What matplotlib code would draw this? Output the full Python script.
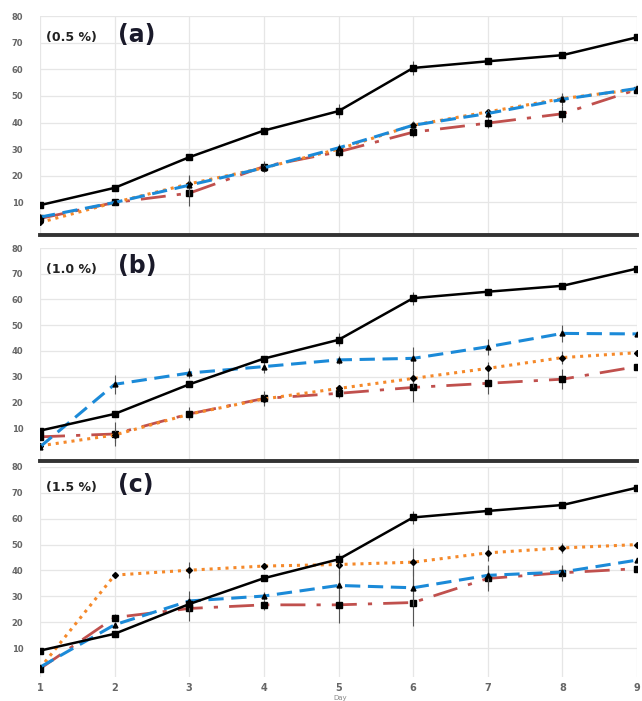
import matplotlib.pyplot as plt
import numpy as np

days = [1, 2, 3, 4, 5, 6, 7, 8, 9]

# valores, un panel por concentracion
control = [9, 15.5, 27, 37, 44.3, 60.5, 63, 65.3, 72]
control_err = [0.8, 1, 1, 1.2, 2.5, 2.5, 1, 1, 1]

blue_a = [4.5, 10, 16.5, 23, 30.5, 39, 43.4, 48.7, 52.8]
orange_a = [2.5, 10, 17, 23, 30, 39, 44, 49, 52.5]
red_a = [4, 10, 13.5, 23.5, 29, 36.4, 39.8, 43.3, 52.4]
err_a = [1.5, 1, 5, 2, 2, 2, 2, 3, 2.5]

blue_b = [2.7, 27, 31.4, 33.9, 36.5, 37.1, 41.6, 46.8, 46.6]
orange_b = [3.1, 7.3, 15.4, 21.3, 25.4, 29.3, 33.2, 37.4, 39.3]
red_b = [6.6, 7.7, 15.5, 21.5, 23.5, 25.8, 27.4, 29, 33.9]
err_b = [1, 4.5, 2.5, 3, 2, 5.5, 4, 4, 1]

blue_c = [2.6, 19, 28.2, 30.1, 34.2, 33.3, 38.1, 39.4, 44]
orange_c = [2.2, 38.2, 40.1, 41.7, 42.3, 43.2, 46.8, 48.7, 50]
red_c = [2, 21.8, 25.3, 26.7, 26.7, 27.6, 36.9, 39.1, 40.7]
err_c = [1, 1.5, 5, 2, 7, 9, 5, 3, 1]

conc = ['(0.5 %)', '(1.0 %)', '(1.5 %)']
letters = ['(a)', '(b)', '(c)']
yticks = [10, 20, 30, 40, 50, 60, 70, 80]

W, H = 642, 701
fig = plt.figure(figsize=(W / 100, H / 100), dpi=100)

# cajas de cada panel en pixeles: (arriba, abajo, ymin)
boxes = [(16, 235, -2.2), (248, 461, -2.8), (467, 677, -1.2)]
series = [(blue_a, orange_a, red_a, err_a),
          (blue_b, orange_b, red_b, err_b),
          (blue_c, orange_c, red_c, err_c)]

for i, ((top, bot, ymin), (bl, orr, rd, er)) in enumerate(zip(boxes, series)):
    ax = fig.add_axes([40 / W, 1 - bot / H, 597 / W, (bot - top) / H])
    ax.set_xlim(1, 9)
    ax.set_ylim(ymin, 80)
    ax.set_yticks(yticks)
    ax.set_xticks(days)
    ax.grid(True, color='#e6e6e6', linewidth=0.9)
    ax.set_axisbelow(True)
    for s in ['left', 'right', 'top']:
        ax.spines[s].set_visible(False)
    if i < 2:
        ax.spines['bottom'].set_color('#333333')
        ax.spines['bottom'].set_linewidth(2.8)
        ax.tick_params(axis='x', labelbottom=False, length=0)
    else:
        ax.spines['bottom'].set_visible(False)
        ax.tick_params(axis='x', length=0, labelsize=7, labelcolor='#666666', pad=4)
        for lab in ax.get_xticklabels():
            lab.set_fontweight('bold')
    ax.tick_params(axis='y', length=0, labelsize=6, labelcolor='#666666', pad=12)
    for lab in ax.get_yticklabels():
        lab.set_fontweight('bold')

    ax.errorbar(days, rd, yerr=er, color='#c0504d', linestyle=(0, (9, 4, 1.5, 4)),
                linewidth=2, marker='s', markersize=4, mfc='black', mec='black',
                ecolor='#555555', elinewidth=0.8, zorder=3)
    ax.errorbar(days, orr, yerr=[e * 0.6 for e in er], color='#f5892a', linestyle=(0, (1, 1.6)),
                linewidth=2.2, marker='D', markersize=3, mfc='black', mec='black',
                ecolor='#555555', elinewidth=0.8, zorder=4)
    ax.errorbar(days, bl, yerr=[e * 0.8 for e in er], color='#1b8ad8', linestyle=(0, (5, 2.5)),
                linewidth=2.2, marker='^', markersize=3.5, mfc='black', mec='black',
                ecolor='#555555', elinewidth=0.8, zorder=5)
    ax.errorbar(days, control, yerr=control_err, color='black', linestyle='-',
                linewidth=1.8, marker='s', markersize=4.5, ecolor='#555555',
                elinewidth=0.8, zorder=6)

    ax.text(0.01, 0.9, conc[i], transform=ax.transAxes, fontsize=9,
            fontweight='bold', color='#222222', va='center')
    ax.text(0.13, 0.915, letters[i], transform=ax.transAxes, fontsize=17,
            fontweight='bold', color='#1a1a2a', va='center')

fig.text(340 / W, 0.0, 'Day', fontsize=5, color='#888888', ha='center', va='bottom')

fig.savefig('out.png', dpi=100)
